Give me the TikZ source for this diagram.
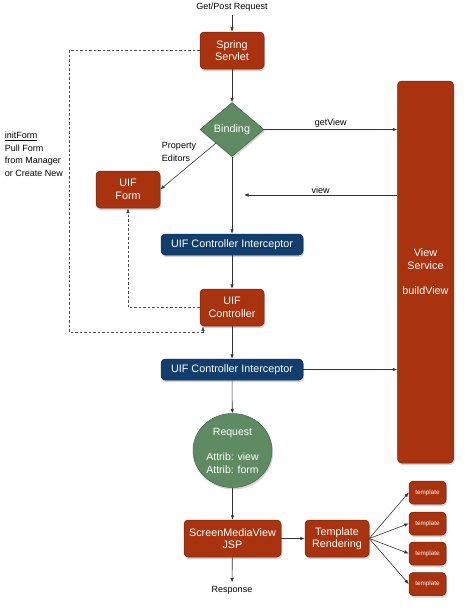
\documentclass[tikz,border=0pt]{standalone}
\usepackage{fontspec}
\setmainfont{Liberation Sans}
\usetikzlibrary{shapes.geometric,arrows.meta,shadows,calc}
\definecolor{rust}{HTML}{A8330E}
\definecolor{sage}{HTML}{5F8B63}
\definecolor{navy}{HTML}{123E6E}
\definecolor{edge}{HTML}{6A2010}
\begin{document}
\begin{tikzpicture}[x=1pt,y=-1pt,
  every node/.style={font=\fontsize{10.8}{12.5}\selectfont},
  boxr/.style={draw=edge,line width=0.5pt,fill=rust,rounded corners=4pt,text=white,align=center,inner sep=0pt,
     drop shadow={shadow xshift=1pt,shadow yshift=-2pt,opacity=0.35}},
  boxb/.style={draw=navy!70!black,line width=0.5pt,fill=navy,rounded corners=4pt,text=white,align=center,inner sep=0pt,
     minimum width=142pt,minimum height=21pt,
     drop shadow={shadow xshift=1pt,shadow yshift=-2pt,opacity=0.35}},
  greenshape/.style={draw=sage!70!black,line width=0.5pt,fill=sage,text=white,align=center,inner sep=0pt,
     drop shadow={shadow xshift=1pt,shadow yshift=-2pt,opacity=0.35}},
  lbl/.style={align=left,text=black,font=\fontsize{9}{12.5}\selectfont},
  conn/.style={draw=black!80,line width=0.6pt,-{Latex[length=4.5pt,width=3.5pt]}},
  dconn/.style={conn,dashed,dash pattern=on 2.5pt off 2pt,draw=black!70}
]
\useasboundingbox (0,0) rectangle (467,608);

\node[lbl] (getpost) at (232,7) {Get/Post Request};
\node[boxr,minimum width=64pt,minimum height=37pt] (servlet) at (232,50.5) {Spring\\Servlet};
\node[greenshape,diamond,minimum width=64pt,minimum height=54pt] (binding) at (232,129.5) {Binding};
\node[boxr,minimum width=64pt,minimum height=37pt] (uifform) at (128,189.5) {UIF\\Form};
\node[lbl] (propeds) at (179,152) {Property\\Editors};
\node[boxb] (int1) at (232,244.5) {UIF Controller Interceptor};
\node[boxr,minimum width=64pt,minimum height=37pt] (controller) at (232,307.5) {UIF\\Controller};
\node[boxb] (int2) at (232,369.5) {UIF Controller Interceptor};
\node[boxr,minimum width=56pt,minimum height=382pt] (viewsvc) at (425.5,272) {View\\Service\\[13pt]buildView};
\node[greenshape,ellipse,minimum width=79pt,minimum height=74pt,font=\fontsize{10.5}{12.7}\selectfont] (request) at (232.5,450.5) {Request\\[12.7pt]Attrib: view\\Attrib: form};
\node[boxr,minimum width=97pt,minimum height=37pt] (jsp) at (232.5,538.5) {ScreenMediaView\\JSP};
\node[boxr,minimum width=64pt,minimum height=37pt] (tmpl) at (337,538.5) {Template\\Rendering};
\foreach \i/\yy in {1/492.5,2/523.5,3/553.5,4/584}{
  \node[boxr,minimum width=37pt,minimum height=23pt,font=\fontsize{6.3}{7}\selectfont] (t\i) at (427.5,\yy) {template};
}
\node[lbl] (response) at (232,590) {Response};
\node[lbl] (initform) at (34,154.5) {\underline{initForm}\\Pull Form\\from Manager\\or Create New};

\coordinate (viewend) at (244,195);
\coordinate (dashA) at (69,50.5);
\coordinate (dashB) at (69,332);
\coordinate (dashD) at (203,332);
\coordinate (dashC) at (128,307.5);

\draw[conn] (getpost) -- (servlet);
\draw[conn] (servlet) -- (binding);
\draw[conn] (binding) -- (int1);
\draw[conn] (binding.east) -- node[lbl,above,inner sep=1.5pt]{getView} (viewsvc.west |- binding.east);
\draw[conn] (viewsvc.west |- viewend) -- node[lbl,above,inner sep=1.5pt]{view} (viewend);
\draw[conn] (binding.south west) -- (uifform.east);
\draw[conn] (int1) -- (controller);
\draw[conn] (controller) -- (int2);
\draw[conn] (int2.east) -- (viewsvc.west |- int2.east);
\draw[conn] (int2) -- (request);
\draw[conn] (request) -- (jsp);
\draw[conn] (jsp) -- (response);
\draw[conn] (jsp) -- (tmpl);
\foreach \i in {1,...,4}{ \draw[conn] (tmpl.east) -- (t\i.west); }
\draw[dconn] (servlet.west) -- (dashA) -- (dashB) -- (dashD) -- (dashD |- controller.south);
\draw[dconn] (controller.west) -- (dashC) -- (uifform.south);
\end{tikzpicture}
\end{document}
